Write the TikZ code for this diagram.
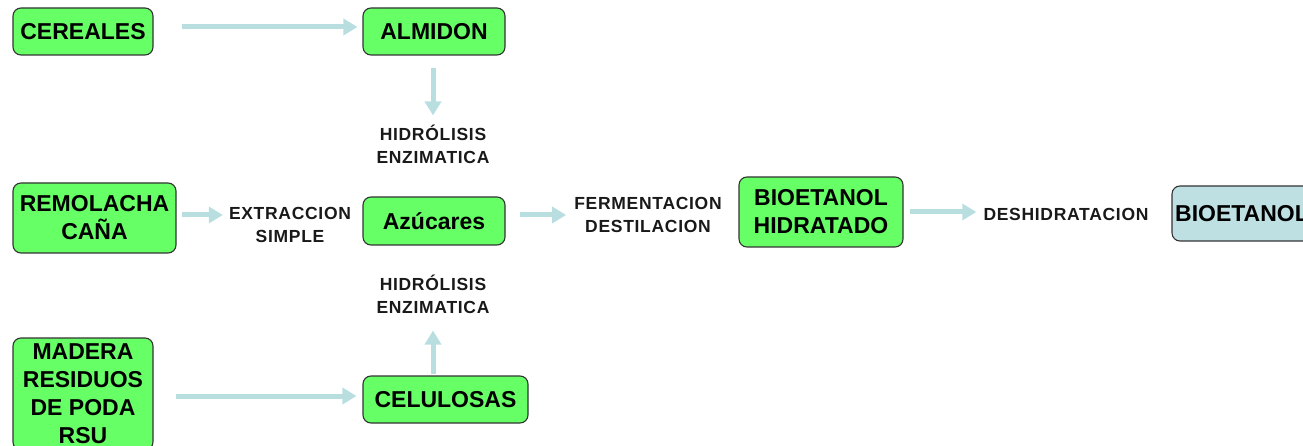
\documentclass[tikz,border=0pt]{standalone}
\usepackage{fontspec}
\setmainfont{Liberation Sans}
\newfontfamily\labelfont[LetterSpace=4]{Liberation Sans}
\usetikzlibrary{arrows.meta,positioning}

\definecolor{boxgreen}{HTML}{66FF66}
\definecolor{boxblue}{HTML}{BEE0E3}
\definecolor{flowblue}{HTML}{B8DEE0}

\begin{document}
\begin{tikzpicture}[x=1pt,y=-1pt,
    box/.style={draw=black!80,line width=1.1pt,rounded corners=8pt,fill=boxgreen,
        align=center,inner sep=1pt,font=\fontsize{23}{28}\selectfont\bfseries},
    proc/.style={align=center,inner sep=0pt,text=black!90,
        font=\labelfont\fontsize{17.5}{23}\selectfont\bfseries},
    flow/.style={draw=flowblue,line width=5pt,-{Triangle[length=14pt,width=16pt]}}]

                \useasboundingbox (0,0) rectangle (1303,446);

                % materias primas
                \node[box,minimum width=140pt,minimum height=47pt] (cereales) at (83,31.5) {CEREALES};
                \node[box,minimum width=163pt,minimum height=70pt] (remolacha) at (94.5,218) {REMOLACHA\\CAÑA};
                \node[box,minimum width=140pt,minimum height=112pt] (madera) at (83,394) {MADERA\\RESIDUOS\\DE PODA\\RSU};

                % productos intermedios
                \node[box,minimum width=142pt,minimum height=47pt] (almidon) at (434,31.5) {ALMIDON};
                \node[box,minimum width=142pt,minimum height=48pt] (azucares) at (434,221) {Azúcares};
                \node[box,minimum width=165pt,minimum height=47pt] (celulosas) at (445.5,399.5) {CELULOSAS};
                \node[box,minimum width=164pt,minimum height=70pt] (bioh) at (821,212) {BIOETANOL\\HIDRATADO};
                \node[box,fill=boxblue,minimum width=140pt,minimum height=55pt] (bioetanol) at (1242,213.5) {BIOETANOL};

                % procesos
                \node[proc] (hidroA) at (433,144) {HIDRÓLISIS\\ENZIMATICA};
                \node[proc] (hidroB) at (433,294) {HIDRÓLISIS\\ENZIMATICA};
                \node[proc] (extraccion) at (290,225) {EXTRACCION\\SIMPLE};
                \node[proc] (fermentacion) at (648,215) {FERMENTACION\\DESTILACION};
                \node[proc] (deshidra) at (1066,214) {DESHIDRATACION};

                \draw[flow,shorten <=28pt,shorten >=5pt] ([yshift=4.5pt]cereales.east) -- ([yshift=4.5pt]cereales.east -| almidon.west);
                \draw[flow,shorten <=12pt,shorten >=9pt] (almidon.south -| hidroA.north) -- (hidroA.north);
                \draw[flow,shorten <=5pt,shorten >=6pt] ([yshift=3pt]remolacha.east) -- ([yshift=3pt]remolacha.east -| extraccion.west);
                \draw[flow,shorten <=14pt,shorten >=8pt] ([yshift=6pt]azucares.east) -- ([yshift=6pt]azucares.east -| fermentacion.west);
                \draw[flow,shorten <=6pt,shorten >=7pt] (bioh.east) -- (bioh.east -| deshidra.west);
                \draw[flow,shorten <=22pt,shorten >=6pt] ([yshift=3.5pt]celulosas.west -| madera.east) -- ([yshift=3.5pt]celulosas.west);
                \draw[flow,shorten <=1pt,shorten >=17pt] (hidroB.south |- celulosas.north) -- (hidroB.south);

            \end{tikzpicture}
\end{document}
